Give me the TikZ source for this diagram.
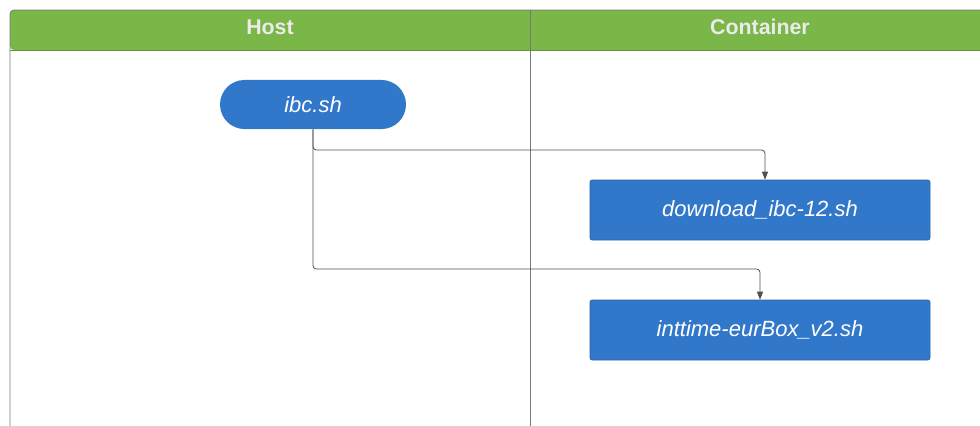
\documentclass[tikz,border=0pt]{standalone}
\usepackage{fontspec}
\setmainfont{Liberation Sans}
\usetikzlibrary{arrows.meta}
\definecolor{hdrgreen}{RGB}{123,182,72}
\definecolor{hdrline}{RGB}{100,150,60}
\definecolor{boxblue}{RGB}{50,120,202}
\definecolor{laneline}{RGB}{120,120,120}
\definecolor{hdrtext}{RGB}{235,235,235}
\definecolor{conn}{RGB}{80,80,80}
\tikzset{
  lanehead/.style={font=\bfseries\fontsize{16pt}{18pt}\selectfont, text=hdrtext},
  stadium/.style={fill=boxblue, rounded corners=18.4pt, minimum width=139.5pt, minimum height=36.8pt, inner sep=0pt, text=white, font=\itshape\fontsize{16.5pt}{19pt}\selectfont},
  procbox/.style={fill=boxblue, draw=boxblue!80!black, line width=0.4pt, rounded corners=1.5pt, minimum width=255pt, minimum height=45pt, inner sep=0pt, text=white, font=\itshape\fontsize{16.5pt}{19pt}\selectfont},
  connector/.style={draw=conn, line width=0.6pt, rounded corners=2.5pt, -{Triangle[length=6pt,width=4.5pt]}}
}
\begin{document}
\begin{tikzpicture}[x=0.75pt,y=-0.75pt]
\useasboundingbox (0,0) rectangle (980,425);
\fill[white] (0,0) rectangle (980,425);
\begin{scope}
\clip (0,0) rectangle (980,425);
% header band
\fill[hdrgreen, rounded corners=3pt] (10,50) -- (10,10) -- (1000,10) -- (1000,50) -- cycle;
\draw[hdrline, line width=0.6pt] (10,50) -- (1000,50);
% lane outline
\draw[laneline, line width=0.6pt, rounded corners=3pt] (10,440) -- (10,10) -- (1000,10);
\draw[laneline, line width=0.6pt] (530,10) -- (530,440);
\end{scope}
\node[lanehead] (host) at (270,27) {Host};
\node[lanehead] (cont) at (760,27) {Container};
% nodes
\node[stadium] (ibc) at (313,104.5) {ibc.sh};
\node[procbox] (dl) at (760,210) {download\_ibc-12.sh};
\node[procbox] (it) at (760,330) {inttime-eurBox\_v2.sh};
% connectors
\draw[connector] (ibc.south) |- (765,150) -- (dl.north -| 765,0);
\draw[connector] (ibc.south) |- (760,269) -- (it.north);
\end{tikzpicture}
\end{document}
